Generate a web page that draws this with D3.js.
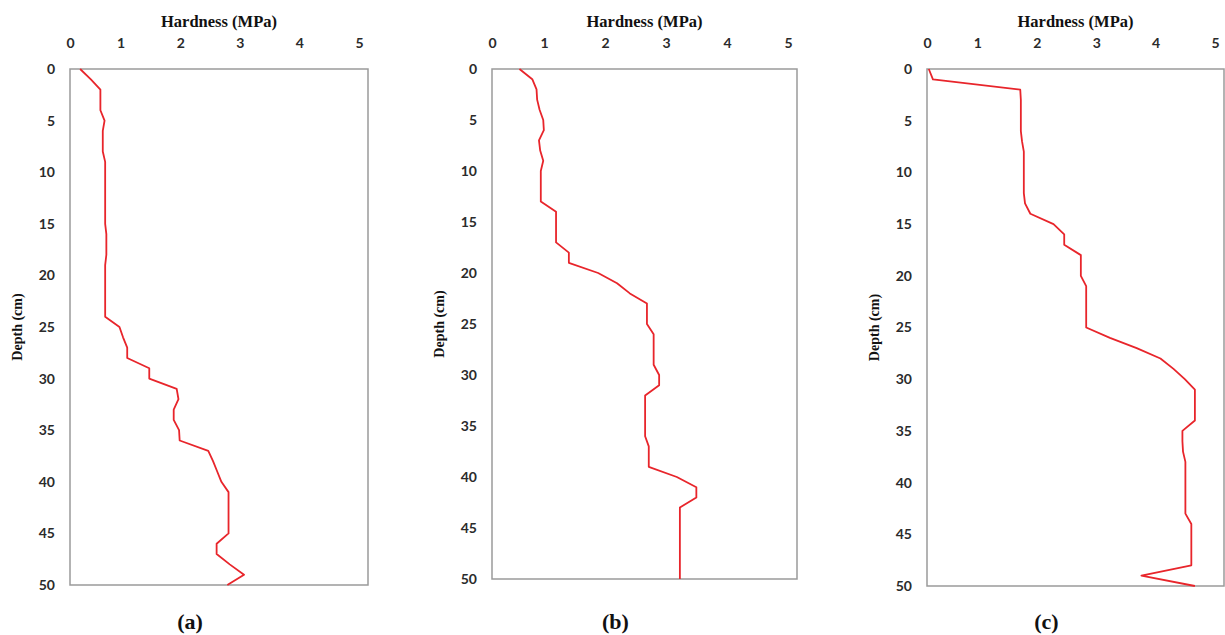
<!DOCTYPE html>
<html>
<head>
<meta charset="utf-8">
<script src="https://cdn.jsdelivr.net/npm/d3@7"></script>
<style>
  body { margin: 0; background: #fff; }
  svg { display: block; }
  .tick text { font-family: Lato, "Liberation Sans", sans-serif; font-weight: 700; font-size: 14px; fill: #2b2b2b; }
  .serif { font-family: "Liberation Serif", "Times New Roman", serif; font-weight: 700; fill: #111; }
</style>
</head>
<body>
<script>
// depth (cm) of every reading
const depth = [0,1,2,3,4,5,6,7,8,9,10,11,12,13,14,15,16,17,18,19,20,
               21,22,23,24,25,26,27,28,29,30,31,32,33,34,35,36,37,38,39,40,
               41,42,43,44,45,46,47,48,49,50]

// hardness (MPa) per depth
const hardnessA = [0.17,0.35,0.51,0.51,0.51,0.58,0.55,0.55,0.55,0.59,0.59,
                   0.59,0.59,0.59,0.59,0.59,0.61,0.61,0.61,0.59,0.59,
                   0.59,0.59,0.59,0.59,0.83,0.89,0.96,0.96,1.33,1.33,
                   1.79,1.82,1.74,1.74,1.83,1.84,2.32,2.40,2.47,2.54,
                   2.66,2.66,2.66,2.66,2.66,2.46,2.46,2.68,2.92,2.64]

const hardnessB = [0.45,0.66,0.73,0.74,0.78,0.84,0.85,0.77,0.79,0.84,0.80,
                   0.80,0.80,0.80,1.05,1.05,1.05,1.05,1.26,1.26,1.74,
                   2.05,2.26,2.54,2.54,2.54,2.65,2.65,2.65,2.65,2.74,
                   2.74,2.51,2.51,2.51,2.51,2.51,2.57,2.57,2.57,3.03,
                   3.35,3.35,3.08,3.08,3.08,3.08,3.08,3.08,3.08,3.08]

const hardnessC = [0.03,0.10,1.57,1.58,1.58,1.58,1.58,1.60,1.63,1.63,1.63,
                   1.63,1.63,1.65,1.74,2.13,2.31,2.31,2.59,2.59,2.59,
                   2.68,2.68,2.68,2.68,2.68,3.08,3.53,3.93,4.15,4.34,
                   4.51,4.51,4.51,4.51,4.30,4.30,4.31,4.35,4.35,4.35,
                   4.35,4.35,4.35,4.45,4.45,4.45,4.45,4.45,3.61,4.51]

const xTicks = [0, 1, 2, 3, 4, 5]
const yTicks = [0, 5, 10, 15, 20, 25, 30, 35, 40, 45, 50]
const panelLabels = ["(a)", "(b)", "(c)"]

const width = 1225, height = 635

// plot boxes for each panel
const panels = [
    { values: hardnessA, label: panelLabels[0], left: 70,  top: 69, right: 368,  bottom: 585 },
    { values: hardnessB, label: panelLabels[1], left: 492, top: 69, right: 797,  bottom: 579 },
    { values: hardnessC, label: panelLabels[2], left: 927, top: 69, right: 1224, bottom: 586 }
]

const svg = d3.select("body").append("svg")
    .attr("width", width)
    .attr("height", height)

panels.forEach((p) => {
    const x = d3.scaleLinear().domain([0, 5]).range([p.left, p.right])
    const y = d3.scaleLinear().domain([0, 50]).range([p.top, p.bottom])
    const g = svg.append("g")

    // frame
    g.append("rect")
        .attr("x", p.left)
        .attr("y", p.top)
        .attr("width", p.right - p.left)
        .attr("height", p.bottom - p.top)
        .attr("fill", "none")
        .attr("stroke", "#9a9a9a")
        .attr("stroke-width", 1.5)

    // top axis (labels sit a bit left of their value, as in the source)
    const xAxis = g.append("g")
        .attr("transform", `translate(0, 43)`)
        .call(d3.axisTop(x).tickValues(xTicks).tickFormat(d3.format("d")).tickSize(0).tickPadding(0))
    xAxis.select(".domain").remove()
    xAxis.selectAll("text")
        .attr("dy", "0.35em")
        .attr("dx", (d) => d === 0 ? 0 : -9)

    // left axis
    const yAxis = g.append("g")
        .attr("transform", `translate(${p.left - 15}, 0)`)
        .call(d3.axisLeft(y).tickValues(yTicks).tickFormat(d3.format("d")).tickSize(0).tickPadding(0))
    yAxis.select(".domain").remove()

    g.append("text")
        .attr("class", "serif")
        .attr("x", (p.left + p.right) / 2)
        .attr("y", 21)
        .attr("dy", "0.35em")
        .attr("text-anchor", "middle")
        .style("font-size", "16.5px")
        .text("Hardness (MPa)")

    g.append("text")
        .attr("class", "serif")
        .attr("transform", `translate(${p.left - 53}, ${(p.top + p.bottom) / 2}) rotate(-90)`)
        .attr("dy", "0.35em")
        .attr("text-anchor", "middle")
        .style("font-size", "14px")
        .text("Depth (cm)")

    g.append("text")
        .attr("class", "serif")
        .attr("x", (p.left + p.right) / 2 - 29)
        .attr("y", 621)
        .attr("dy", "0.35em")
        .attr("text-anchor", "middle")
        .style("font-size", "22px")
        .text(p.label)

    const line = d3.line()
        .x((d, i) => x(p.values[i]))
        .y((d) => y(d))

    g.append("path")
        .datum(depth)
        .attr("d", line)
        .attr("fill", "none")
        .attr("stroke", "#e8252b")
        .attr("stroke-width", 1.8)
        .attr("stroke-linejoin", "round")
})
</script>
</body>
</html>
